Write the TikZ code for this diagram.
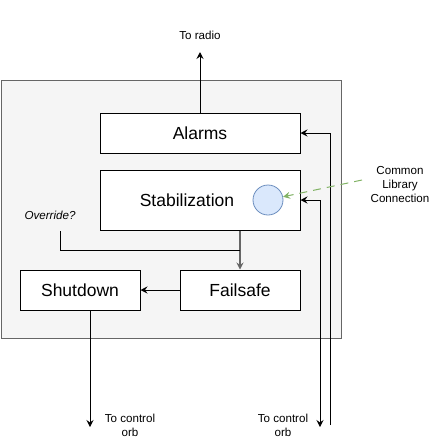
\documentclass[tikz,border=0pt]{standalone}
\usepackage{fontspec}
\setmainfont{Liberation Sans}
\usetikzlibrary{arrows.meta}
\definecolor{contfill}{HTML}{F5F5F5}
\definecolor{contline}{HTML}{666666}
\definecolor{libfill}{HTML}{DAE8FC}
\definecolor{libline}{HTML}{6C8EBF}
\definecolor{libarrow}{HTML}{82B366}
\tikzset{
  box/.style={draw=black, line width=1pt, fill=white, inner sep=0pt, font=\fontsize{17.5}{20}\selectfont},
  small/.style={font=\fontsize{11.6}{14}\selectfont, align=center, inner sep=0pt},
  tip/.style={Stealth[length=7pt,width=7pt,inset=2.5pt]},
  arr/.style={line width=1pt, -{Stealth[length=7pt,width=7pt,inset=2.5pt]}},
  plain/.style={line width=1pt},
}
\begin{document}
\begin{tikzpicture}[x=1pt,y=-1pt]
\useasboundingbox (0,0) rectangle (431,440);
% container
\node[draw=contline, fill=contfill, line width=1pt, minimum width=340pt, minimum height=258pt, inner sep=0pt, anchor=north west] (cont) at (0.5,80) {};
% boxes
\node[box, minimum width=200pt, minimum height=40pt] (alarms) at (200,133) {Alarms};
\node[box, minimum width=200pt, minimum height=60pt] (stab) at (200,200) {};
\node[font=\fontsize{17.5}{20}\selectfont, inner sep=0pt] (stabtext) at (187,200) {Stabilization};
\node[circle, draw=libline, fill=libfill, line width=0.8pt, minimum size=30pt, inner sep=0pt] (lib) at (268,200) {};
\node[box, minimum width=120pt, minimum height=40pt] (shutdown) at (80,290) {Shutdown};
\node[box, minimum width=120pt, minimum height=40pt] (failsafe) at (240,290) {Failsafe};
% labels
\node[small] (radio) at (200,35) {To radio};
\node[small, font=\fontsize{11.6}{14}\selectfont\itshape] (override) at (50,215) {Override?};
\node[small] (common) at (400,185) {Common\\Library\\Connection};
\node[small] (orb1) at (130,425) {To control\\orb};
\node[small] (orb2) at (283,425) {To control\\orb};
% coordinates
\coordinate (radiotip) at (200,52);
\coordinate (inA) at (330,425);
\coordinate (inS) at (320,427);
\coordinate (libstart) at (362,180);
\coordinate (ovstart) at (60,231);
\coordinate (ovjoin) at (240,250);
\coordinate (sdend) at (90,427);
% connectors
\draw[arr] (alarms.north) -- (radiotip);
\draw[arr] (inA) |- (alarms.east);
\draw[line width=1pt, {Stealth[length=7pt,width=7pt,inset=2.5pt]}-{Stealth[length=7pt,width=7pt,inset=2.5pt]}] (stab.east) -| (inS);
\draw[libarrow, line width=1pt, dash pattern=on 8pt off 6pt, -{Stealth[length=7pt,width=7pt,inset=2.5pt]}] (libstart) -- (lib);
\draw[contline, line width=1.5pt, -{Stealth[length=7pt,width=7pt,inset=2.5pt]}] (failsafe.north |- stab.south) -- (failsafe.north);
\draw[plain] (ovstart) |- (ovjoin);
\draw[arr] (failsafe.west) -- (shutdown.east);
\draw[arr] (shutdown.south -| sdend) -- (sdend);
\end{tikzpicture}
\end{document}
